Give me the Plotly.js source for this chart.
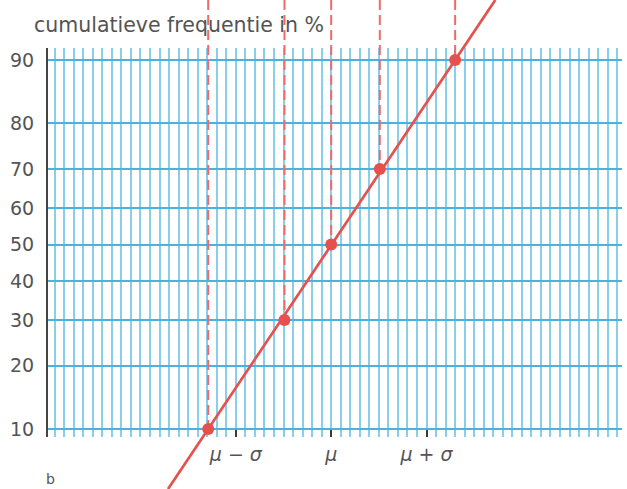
<!DOCTYPE html>
<html>
<head>
<meta charset="utf-8">
<script src="https://cdn.plot.ly/plotly-3.0.1.min.js"></script>
<style>html,body{margin:0;padding:0;background:#fff;}#chart{width:627px;height:489px;}</style>
</head>
<body>
<div id="chart"></div>
<script>
// ---- data ----
const yTickPercents = [10, 20, 30, 40, 50, 60, 70, 80, 90];
const yTickLabels = ['10', '20', '30', '40', '50', '60', '70', '80', '90'];
const pointPercents = [10, 30, 50, 70, 90];
const pointX = [-1.29, -0.49, 0, 0.51, 1.30];          // position in sigma units from mu
const xTickVals = [-1, 0, 1];
const xTickText = ['<i>μ</i> − <i>σ</i>', '<i>μ</i>', '<i>μ</i> + <i>σ</i>'];
const titleText = 'cumulatieve frequentie in %';

// ---- probability-paper scale (inverse normal CDF, Acklam) ----
function probit(p) {
  const a = [-3.969683028665376e+01, 2.209460984245205e+02, -2.759285104469687e+02, 1.383577518672690e+02, -3.066479806614716e+01, 2.506628277459239e+00];
  const b = [-5.447609879822406e+01, 1.615858368580409e+02, -1.556989798598866e+02, 6.680131188771972e+01, -1.328068155692189e+01];
  const c = [-7.784894002430293e-03, -3.223964580411365e-01, -2.400758277161838e+00, -2.549732516309418e+00, 4.374664141464968e+00, 2.938163982698783e+00];
  const d = [7.784695709041462e-03, 3.224671290700398e-01, 2.445134137142996e+00, 3.754408645639116e+00];
  const plow = 0.02425, phigh = 1 - plow;
  let q, r;
  if (p < plow) {
    q = Math.sqrt(-2 * Math.log(p));
    return (((((c[0]*q+c[1])*q+c[2])*q+c[3])*q+c[4])*q+c[5]) / ((((d[0]*q+d[1])*q+d[2])*q+d[3])*q+1);
  } else if (p <= phigh) {
    q = p - 0.5; r = q * q;
    return (((((a[0]*r+a[1])*r+a[2])*r+a[3])*r+a[4])*r+a[5])*q / (((((b[0]*r+b[1])*r+b[2])*r+b[3])*r+b[4])*r+1);
  } else {
    q = Math.sqrt(-2 * Math.log(1 - p));
    return -(((((c[0]*q+c[1])*q+c[2])*q+c[3])*q+c[4])*q+c[5]) / ((((d[0]*q+d[1])*q+d[2])*q+d[3])*q+1);
  }
}
const z = pct => probit(pct / 100);

// ---- layout geometry ----
const W = 627, H = 489;
const xDom = [48 / W, 622 / W];
const yDom = [(H - 437) / H, (H - 48) / H];
const xRange = [-2.97, 3.05];
const yRange = [-1.337, 1.365];
function extend(r, d) {
  const span = (r[1] - r[0]) / (d[1] - d[0]);
  return [r[0] - span * d[0], r[0] + span * (1 - d[0])];
}
const xRange2 = extend(xRange, xDom);
const yRange2 = extend(yRange, yDom);
const xAxisPos = yDom[0] + (z(yTickPercents[0]) - yRange[0]) / (yRange[1] - yRange[0]) * (yDom[1] - yDom[0]);

const red = '#e4514e';
const dashRed = '#ef6b69';
const vGrid = '#88cfec';
const hGrid = '#4ab2dd';
const txt = '#545454';
const fontFam = 'DejaVu Sans, Liberation Sans, Arial, sans-serif';

const pz = pointPercents.map(z);
const n = pz.length;
const slope = (pointX[n-1] - pointX[0]) / (pz[n-1] - pz[0]);
const lineY = [yRange2[0], yRange2[1]];
const lineX = [pointX[0] + slope * (lineY[0] - pz[0]), pointX[n-1] + slope * (lineY[1] - pz[n-1])];

const traces = [];
traces.push({x: [pointX[0]], y: [pz[0]], xaxis: 'x', yaxis: 'y', mode: 'markers',
  marker: {opacity: 0}, hoverinfo: 'skip', showlegend: false});
pointX.forEach((xv, i) => {
  traces.push({x: [xv, xv], y: [yRange2[1], pz[i]], xaxis: 'x2', yaxis: 'y2', mode: 'lines',
    line: {color: dashRed, width: 2, dash: '10px,5px'}, hoverinfo: 'skip', showlegend: false});
});
traces.push({x: lineX, y: lineY, xaxis: 'x2', yaxis: 'y2', mode: 'lines',
  line: {color: red, width: 2.7}, hoverinfo: 'skip', showlegend: false});
traces.push({x: pointX, y: pz, xaxis: 'x2', yaxis: 'y2', mode: 'markers',
  marker: {color: red, size: 12}, showlegend: false});

const layout = {
  width: W, height: H,
  margin: {l: 0, r: 0, t: 0, b: 0, pad: 0},
  paper_bgcolor: '#ffffff',
  plot_bgcolor: 'rgba(0,0,0,0)',
  font: {family: fontFam, color: txt},
  showlegend: false,
  xaxis: {
    domain: xDom, range: xRange, anchor: 'free', position: xAxisPos,
    tickmode: 'array', tickvals: xTickVals, ticktext: xTickText,
    ticks: 'outside', ticklen: 7, tickwidth: 2, tickcolor: '#3a3a3a',
    showgrid: true, gridcolor: vGrid, gridwidth: 2,
    minor: {tickmode: 'linear', tick0: 0, dtick: 0.1, showgrid: true, gridcolor: vGrid, gridwidth: 2, ticks: ''},
    zeroline: false, showline: false,
    tickfont: {size: 19, color: txt, family: fontFam}, ticklabelstandoff: 1,
    fixedrange: true
  },
  yaxis: {
    domain: yDom, range: yRange,
    tickmode: 'array', tickvals: yTickPercents.map(z), ticktext: yTickLabels,
    ticks: '', showgrid: true, gridcolor: hGrid, gridwidth: 2,
    zeroline: false, showline: true, linecolor: '#444444', linewidth: 2,
    tickfont: {size: 19, color: txt, family: fontFam}, ticklabelstandoff: 8,
    fixedrange: true
  },
  xaxis2: {domain: [0, 1], range: xRange2, anchor: 'y2', visible: false, showgrid: false, fixedrange: true},
  yaxis2: {domain: [0, 1], range: yRange2, anchor: 'x2', visible: false, showgrid: false, fixedrange: true},
  annotations: [
    {text: titleText, xref: 'paper', yref: 'paper', x: 32 / W, y: 1 - 25 / H,
     xanchor: 'left', yanchor: 'middle', showarrow: false, font: {size: 20.5, color: txt, family: fontFam}},
    {text: 'b', xref: 'paper', yref: 'paper', x: 44 / W, y: 0,
     xanchor: 'left', yanchor: 'bottom', showarrow: false, font: {size: 14, color: txt, family: fontFam}}
  ]
};

Plotly.newPlot('chart', traces, layout, {displayModeBar: false, staticPlot: true});
</script>
</body>
</html>
